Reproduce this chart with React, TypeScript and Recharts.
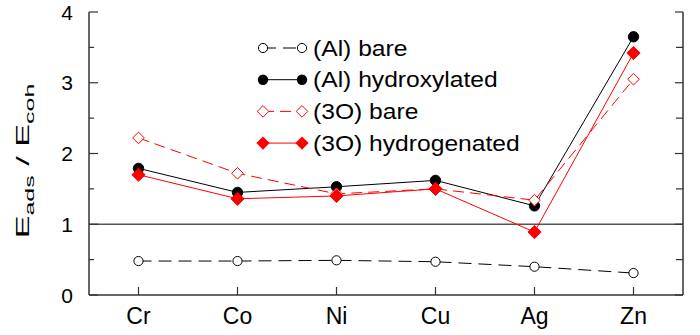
import React from 'react';
import { LineChart, Line, XAxis, YAxis, ReferenceLine, Legend } from 'recharts';

const categories = ['Cr', 'Co', 'Ni', 'Cu', 'Ag', 'Zn'];
const alBare = [0.48, 0.48, 0.49, 0.47, 0.4, 0.31];
const alHydroxylated = [1.79, 1.45, 1.53, 1.62, 1.26, 3.65];
const oBare = [2.22, 1.72, 1.43, 1.5, 1.34, 3.05];
const oHydrogenated = [1.7, 1.36, 1.4, 1.5, 0.89, 3.42];
const yTicks = [0, 0.5, 1, 1.5, 2, 2.5, 3, 3.5, 4];
const seriesNames = ['(Al) bare', '(Al) hydroxylated', '(3O) bare', '(3O) hydrogenated'];

const data = categories.map((name, i) => ({
  name,
  alBare: alBare[i],
  alHydroxylated: alHydroxylated[i],
  oBare: oBare[i],
  oHydrogenated: oHydrogenated[i],
}));

const FONT = '"Liberation Sans", Arial, Helvetica, sans-serif';
const RED = '#ff0000';
const FRAME = '#333333';

const OpenCircle = (p: any) => (
  <circle key={`oc${p.index}`} cx={p.cx} cy={p.cy} r={4.6} fill="#fff" stroke="#000" strokeWidth={1} />
);
const FilledCircle = (p: any) => (
  <circle key={`fc${p.index}`} cx={p.cx} cy={p.cy} r={5.2} fill="#000" stroke="#000" strokeWidth={1} />
);
const diamondPts = (cx: number, cy: number, h: number) =>
  `${cx},${cy - h} ${cx + h},${cy} ${cx},${cy + h} ${cx - h},${cy}`;
const OpenDiamond = (p: any) => (
  <polygon key={`od${p.index}`} points={diamondPts(p.cx, p.cy, 5.8)} fill="#fff" stroke={RED} strokeWidth={1} />
);
const FilledDiamond = (p: any) => (
  <polygon key={`fd${p.index}`} points={diamondPts(p.cx, p.cy, 6.6)} fill={RED} stroke={RED} strokeWidth={1} />
);

const LeftTick = (p: any) => {
  const v = p.payload.value;
  const major = Number.isInteger(v);
  return (
    <g>
      <line x1={p.x} x2={p.x + (major ? 9 : 5)} y1={p.y} y2={p.y} stroke={FRAME} strokeWidth={1.2} />
      {major && (
        <text x={p.x - 16} y={p.y + 7.5} textAnchor="end" fontFamily={FONT} fontSize={21} fill="#000">
          {v}
        </text>
      )}
    </g>
  );
};
const RightTick = (p: any) => {
  const v = p.payload.value;
  const major = Number.isInteger(v);
  return <line x1={p.x} x2={p.x - (major ? 8 : 7)} y1={p.y} y2={p.y} stroke={FRAME} strokeWidth={1.2} />;
};
const BottomTick = (p: any) => (
  <g>
    <line x1={p.x} x2={p.x} y1={p.y} y2={p.y - 8} stroke={FRAME} strokeWidth={1.2} />
    <text x={p.x} y={p.y + 29} textAnchor="middle" fontFamily={FONT} fontSize={23} fill="#000">
      {p.payload.value}
    </text>
  </g>
);
const TopTick = (p: any) => (
  <line x1={p.x} x2={p.x} y1={p.y} y2={p.y + 8} stroke={FRAME} strokeWidth={1.2} />
);

const YLabel = () => (
  <g transform="translate(29,161) rotate(-90) scale(1.85,1)">
    <text x={0} y={0} textAnchor="middle" fontFamily={FONT} fontSize={18.5} fill="#000">
      <tspan>E</tspan>
      <tspan fontSize={13.5} dy={5}>ads</tspan>
      <tspan dy={-5}> / E</tspan>
      <tspan fontSize={13.5} dy={5}>coh</tspan>
    </text>
  </g>
);

const legendItems = [
  { name: seriesNames[0], color: '#000', dash: '13 7', marker: 'oc' },
  { name: seriesNames[1], color: '#000', dash: undefined, marker: 'fc' },
  { name: seriesNames[2], color: RED, dash: '11 6', marker: 'od' },
  { name: seriesNames[3], color: RED, dash: undefined, marker: 'fd' },
];

const LegendMarker = ({ kind, cx, cy }: { kind: string; cx: number; cy: number }) => {
  if (kind === 'oc') return <circle cx={cx} cy={cy} r={4.6} fill="#fff" stroke="#000" strokeWidth={1} />;
  if (kind === 'fc') return <circle cx={cx} cy={cy} r={5.2} fill="#000" />;
  if (kind === 'od') return <polygon points={diamondPts(cx, cy, 5.8)} fill="#fff" stroke={RED} strokeWidth={1} />;
  return <polygon points={diamondPts(cx, cy, 6.6)} fill={RED} />;
};

const LegendContent = () => (
  <svg width={300} height={140} style={{ overflow: 'visible' }}>
    {legendItems.map((it, i) => {
      const cy = 18 + i * 31.7;
      return (
        <g key={it.name}>
          <line x1={8} x2={47} y1={cy} y2={cy} stroke={it.color} strokeWidth={1} strokeDasharray={it.dash} />
          <LegendMarker kind={it.marker} cx={8} cy={cy} />
          <LegendMarker kind={it.marker} cx={47} cy={cy} />
          <g transform={`translate(58,${cy + 7.5}) scale(1.12,1)`}>
            <text x={0} y={0} fontFamily={FONT} fontSize={22} fill="#000">
              {it.name}
            </text>
          </g>
        </g>
      );
    })}
  </svg>
);

export default function App() {
  return (
    <div style={{ position: 'absolute', left: 0, top: 0, width: 700, height: 335, background: '#fff' }}>
      <LineChart width={700} height={335} data={data} margin={{ top: 12, right: 16, bottom: 0, left: 0 }}>
        <XAxis
          dataKey="name"
          xAxisId="b"
          scale="band"
          height={40}
          tickSize={0}
          tickMargin={0}
          tick={<BottomTick />}
          interval={0}
          axisLine={{ stroke: FRAME, strokeWidth: 1.5 }}
          tickLine={false}
        />
        <XAxis
          dataKey="name"
          xAxisId="t"
          scale="band"
          orientation="top"
          height={0}
          tickSize={0}
          tickMargin={0}
          tick={<TopTick />}
          interval={0}
          axisLine={{ stroke: FRAME, strokeWidth: 1.5 }}
          tickLine={false}
        />
        <YAxis
          yAxisId="l"
          width={89}
          domain={[0, 4]}
          ticks={yTicks}
          interval={0}
          tickSize={0}
          tickMargin={0}
          tick={<LeftTick />}
          axisLine={{ stroke: FRAME, strokeWidth: 1.5 }}
          tickLine={false}
          label={YLabel}
        />
        <YAxis
          yAxisId="r"
          orientation="right"
          width={1}
          domain={[0, 4]}
          ticks={yTicks}
          interval={0}
          tickSize={0}
          tickMargin={0}
          tick={<RightTick />}
          axisLine={{ stroke: FRAME, strokeWidth: 1.5 }}
          tickLine={false}
        />
        <ReferenceLine y={1} xAxisId="b" yAxisId="l" stroke="#555" strokeWidth={1.5} />
        <Legend
          verticalAlign="middle"
          align="center"
          layout="horizontal"
          content={<LegendContent />}
          wrapperStyle={{ left: 255, top: 30, width: 300, height: 140 }}
        />
        <Line
          xAxisId="b"
          yAxisId="l"
          dataKey="alBare"
          name={seriesNames[0]}
          stroke="#000"
          strokeWidth={1}
          strokeDasharray="13 7"
          dot={OpenCircle}
          isAnimationActive={false}
        />
        <Line
          xAxisId="b"
          yAxisId="l"
          dataKey="alHydroxylated"
          name={seriesNames[1]}
          stroke="#000"
          strokeWidth={1}
          dot={FilledCircle}
          isAnimationActive={false}
        />
        <Line
          xAxisId="b"
          yAxisId="r"
          dataKey="oBare"
          name={seriesNames[2]}
          stroke={RED}
          strokeWidth={1}
          strokeDasharray="11 6"
          dot={OpenDiamond}
          isAnimationActive={false}
        />
        <Line
          xAxisId="t"
          yAxisId="l"
          dataKey="oHydrogenated"
          name={seriesNames[3]}
          stroke={RED}
          strokeWidth={1}
          dot={FilledDiamond}
          isAnimationActive={false}
        />
      </LineChart>
    </div>
  );
}
